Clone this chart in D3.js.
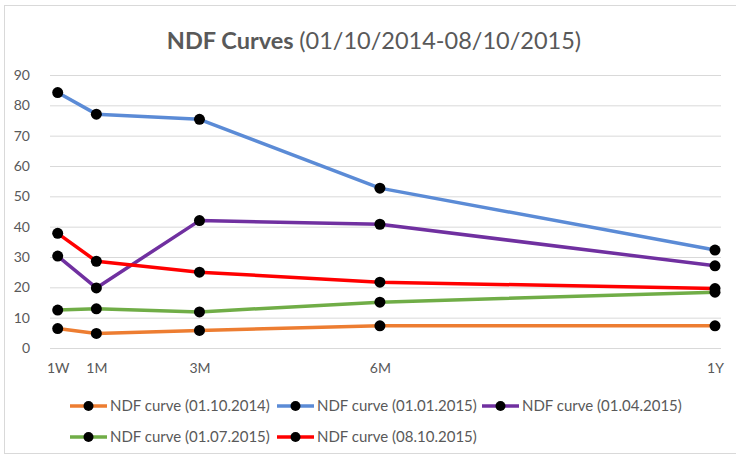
<!DOCTYPE html>
<html>
<head>
<meta charset="utf-8">
<script src="https://cdn.jsdelivr.net/npm/d3@7"></script>
<style>
  body { margin: 0; background: #fff; }
  svg { font-family: Lato, 'Open Sans', sans-serif; }
</style>
</head>
<body>
<div class="dataviz"></div>
<script>
// tenors, x in weeks
const tenors = ['1W', '1M', '3M', '6M', '1Y']
const tenorWeeks = [1, 4, 12, 26, 52]
const yTicks = [0, 10, 20, 30, 40, 50, 60, 70, 80, 90]

const seriesNames = [
  'NDF curve (01.10.2014)',
  'NDF curve (01.01.2015)',
  'NDF curve (01.04.2015)',
  'NDF curve (01.07.2015)',
  'NDF curve (08.10.2015)'
]
const curve20141001 = [6.4, 4.8, 5.8, 7.3, 7.3]
const curve20150101 = [84.2, 77.1, 75.4, 52.7, 32.3]
const curve20150401 = [30.3, 19.8, 42.0, 40.8, 27.1]
const curve20150701 = [12.5, 12.9, 11.9, 15.1, 18.4]
const curve20151008 = [37.8, 28.6, 25.0, 21.7, 19.6]
const seriesColors = ['#ED7D31', '#5B8BD6', '#7030A0', '#70AD47', '#FF0000']

const allSeries = [curve20141001, curve20150101, curve20150401, curve20150701, curve20151008]
  .map((vals, i) => ({
    name: seriesNames[i],
    color: seriesColors[i],
    values: vals.map((v, j) => ({ w: tenorWeeks[j], v }))
  }))

const width = 736
const height = 459
const plot = { left: 50, right: 721, top: 75, bottom: 348 }

const svg = d3.select('.dataviz').append('svg')
  .attr('width', width).attr('height', height)

// chart border
svg.append('rect')
  .attr('x', 4.5).attr('y', 5.5)
  .attr('width', 740).attr('height', 448)
  .attr('fill', 'none').attr('stroke', '#d9d9d9')

// title
const title = svg.append('text')
  .attr('x', 374).attr('y', 49)
  .attr('text-anchor', 'middle')
  .attr('fill', '#595959')
  .attr('font-size', 23.5)
title.append('tspan').attr('font-weight', 'bold').text('NDF Curves ')
title.append('tspan').text('(01/10/2014-08/10/2015)')

// scales
const x = d3.scaleLinear().domain([1, 52]).range([57.7, 715])
const y = d3.scaleLinear().domain([0, 90]).range([plot.bottom, plot.top])

// gridlines + y axis
const yAxis = svg.append('g')
  .attr('transform', `translate(${plot.left},0)`)
  .call(d3.axisLeft(y).tickValues(yTicks)
    .tickSize(-(plot.right - plot.left)).tickPadding(20))
yAxis.select('.domain').remove()
yAxis.selectAll('line').attr('stroke', '#d9d9d9')
yAxis.selectAll('text').attr('fill', '#595959').attr('font-size', 14)
  .attr('font-family', 'Lato, sans-serif')

// x axis labels
const xAxis = svg.append('g')
  .attr('transform', `translate(0,${plot.bottom})`)
  .call(d3.axisBottom(x).tickValues(tenorWeeks)
    .tickFormat((d, i) => tenors[i]).tickSize(0).tickPadding(15))
xAxis.select('.domain').remove()
xAxis.selectAll('text').attr('fill', '#595959').attr('font-size', 14)
  .attr('font-family', 'Lato, sans-serif')

// lines
const line = d3.line().x(d => x(d.w)).y(d => y(d.v))

allSeries.forEach(s => {
  svg.append('path')
    .datum(s.values)
    .attr('d', line)
    .attr('fill', 'none')
    .attr('stroke', s.color)
    .attr('stroke-width', 3.5)
    .attr('stroke-linejoin', 'round')
})

allSeries.forEach(s => {
  svg.selectAll(null)
    .data(s.values)
    .enter()
    .append('circle')
    .attr('cx', d => x(d.w))
    .attr('cy', d => y(d.v))
    .attr('r', 5.5)
    .attr('fill', '#000')
})

// legend
const legendPos = [[70, 406], [277, 406], [482, 406], [70, 437], [277, 437]]
allSeries.forEach((s, i) => {
  const g = svg.append('g')
    .attr('transform', `translate(${legendPos[i][0]},${legendPos[i][1]})`)
  g.append('line').attr('x1', 0).attr('x2', 37)
    .attr('stroke', s.color).attr('stroke-width', 3.5)
  g.append('circle').attr('cx', 18.5).attr('r', 5).attr('fill', '#000')
  g.append('text').attr('x', 40).attr('dy', '0.35em')
    .attr('fill', '#595959').attr('font-size', 15)
    .text(s.name)
})
</script>
</body>
</html>
